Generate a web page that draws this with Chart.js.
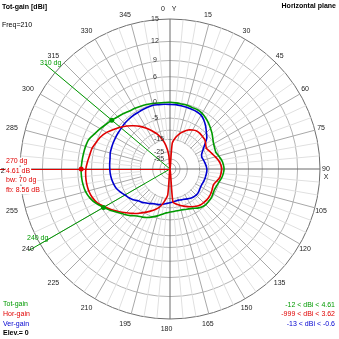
<!DOCTYPE html>
<html>
<head>
<meta charset="utf-8">
<script src="https://cdn.jsdelivr.net/npm/chart.js@4.4.1/dist/chart.umd.min.js"></script>
<style>
  html, body { margin: 0; padding: 0; background: #fff; }
  canvas { display: block; }
</style>
</head>
<body>
<canvas id="chart" width="339" height="339"></canvas>
<script>
// azimuth in degrees, 0 = Y axis at the top, clockwise
const angles = [0,5,10,15,20,25,30,35,40,45,50,55,60,65,70,75,80,85,90,95,100,105,110,115,
  120,125,130,135,140,145,150,155,160,165,170,175,180,185,190,195,200,205,210,215,220,225,230,235,
  240,245,250,255,260,265,270,275,280,285,290,295,300,305,310,315,320,325,330,335,340,345,350,355];

// gains in dBi
const totGain = [0.0,-0.1,-0.2,-0.2,-0.4,-0.4,-0.7,-1.3,-2.0,-2.8,-3.6,-4.5,-5.2,-5.6,-5.8,-5.2,-4.5,-4.1,
  -3.9,-4.1,-4.5,-5.1,-5.5,-5.7,-5.5,-5.2,-5.2,-5.2,-5.5,-6.2,-7.1,-7.7,-8.1,-8.4,-8.4,-8.3,
  -8.1,-7.7,-6.9,-5.9,-5.0,-4.1,-3.4,-2.8,-1.7,-0.7,0.3,1.5,2.6,3.7,4.5,5.0,5.2,5.3,
  5.3,5.2,5.1,5.0,4.8,4.1,3.5,2.9,2.4,1.9,1.5,1.1,0.9,0.7,0.5,0.3,0.1,0.0];
const horGain = [-999,-17.5,-13.6,-11.2,-9.5,-8.1,-7.3,-6.7,-6.7,-6.9,-7.1,-7.9,-8.6,-8.1,-7.4,-6.5,-5.6,-5.0,
  -4.7,-4.9,-5.2,-6.1,-6.8,-6.6,-6.3,-6.1,-6.1,-6.3,-6.5,-7.1,-7.9,-8.8,-9.7,-10.7,-11.7,-13.0,
  -999,-17.5,-13.0,-9.9,-8.1,-6.7,-5.3,-3.9,-2.6,-1.4,-0.1,1.2,2.3,3.4,4.0,4.3,4.4,4.4,
  4.3,4.0,3.7,3.5,3.0,2.5,1.7,0.6,-0.5,-1.7,-3.1,-4.6,-6.5,-8.6,-10.9,-14.2,-18.9,-28.9];
const verGain = [-0.6,-0.6,-0.7,-0.8,-0.9,-1.0,-1.3,-2.2,-3.4,-4.8,-6.1,-8.4,-10.4,-12.0,-12.5,-12.1,-11.7,-11.3,
  -11.0,-11.0,-11.2,-11.3,-11.5,-11.7,-11.7,-11.4,-11.0,-10.9,-11.2,-11.6,-12.2,-12.8,-13.1,-13.5,-13.3,-13.0,
  -12.6,-12.2,-11.7,-11.0,-10.6,-10.3,-9.5,-8.8,-7.9,-7.3,-6.1,-5.3,-4.6,-3.7,-2.9,-2.5,-2.2,-2.0,
  -1.9,-1.8,-1.7,-1.4,-1.3,-1.2,-1.1,-1.0,-0.9,-0.7,-0.6,-0.5,-0.5,-0.4,-0.3,-0.2,-0.4,-0.5];

// rings of the dB grid and the ones that carry a label
const ringDb = [15, 12, 9, 6, 3, 0, -5, -10, -15, -25, -35, -45];
const ringLabels = ['15', '12', '9', '6', '', '0', '-5', '', '-15', '-25', '-35', ''];
const angleLabels = [15,30,45,60,75,105,120,135,150,165,180,195,210,225,240,255,270,285,300,315,330,345];
const spokeStartDb = -15;  // radial spokes only start from this ring

const beamDir = 270, beamLeft = 240, beamRight = 310;
const seriesNames = ['Tot-gain', 'Hor-gain', 'Ver-gain'];
const rangeTexts = ['-12 < dBi < 4.61', '-999 < dBi < 3.62', '-13 < dBi < -0.6'];
const infoTexts = ['270 dg', '4.61 dB', 'bw: 70 dg', 'fb: 8.56 dB'];
const colors = ['#009a00', '#e00000', '#0000d0'];

// log-like radial scale: outer ring = 15 dB
const K = 0.054;
function dbToR(db) { return Math.exp(-K * (15 - db)); }

const FONT = '"Liberation Sans", Arial, sans-serif';
const RING = '#b4b4b4', AXIS = '#6a6a6a';

const polarDecor = {
  id: 'polarDecor',
  beforeDatasetsDraw(chart) {
    const s = chart.scales.r;
    const ctx = chart.ctx;
    const cx = s.xCenter, cy = s.yCenter;
    ctx.save();
    ctx.lineWidth = 1;

    // keep the middle clear of spokes: blank it and put back the inner rings and axes
    const inner = s.getDistanceFromCenterForValue(dbToR(spokeStartDb));
    ctx.fillStyle = '#fff';
    ctx.beginPath();
    ctx.arc(cx, cy, inner - 0.6, 0, Math.PI * 2);
    ctx.fill();
    ctx.strokeStyle = RING;
    ringDb.filter(d => d < spokeStartDb).forEach(d => {
      ctx.beginPath();
      ctx.arc(cx, cy, s.getDistanceFromCenterForValue(dbToR(d)), 0, Math.PI * 2);
      ctx.stroke();
    });
    ctx.strokeStyle = AXIS;
    [0, 90, 180, 270].forEach(a => {
      const p = s.getPointPosition(angles.indexOf(a), inner);
      ctx.beginPath();
      ctx.moveTo(cx, cy);
      ctx.lineTo(p.x, p.y);
      ctx.stroke();
    });

    // green -3 dB direction lines
    ctx.strokeStyle = colors[0];
    [beamLeft, beamRight].forEach(a => {
      const p = s.getPointPosition(angles.indexOf(a), s.drawingArea + 13);
      ctx.beginPath();
      ctx.moveTo(cx, cy);
      ctx.lineTo(p.x, p.y);
      ctx.stroke();
    });
    // red main direction line
    ctx.strokeStyle = colors[1];
    const p = s.getPointPosition(angles.indexOf(beamDir), s.drawingArea + 30);
    ctx.beginPath();
    ctx.moveTo(cx, cy + 0.5);
    ctx.lineTo(p.x, p.y + 0.5);
    ctx.stroke();
    ctx.restore();
  },
  afterDraw(chart) {
    const s = chart.scales.r;
    const ctx = chart.ctx;
    ctx.save();
    ctx.textBaseline = 'middle';

    // ring labels along the upper Y axis
    ctx.font = '7px ' + FONT;
    ctx.fillStyle = '#333';
    ctx.textAlign = 'center';
    ringDb.forEach((d, i) => {
      if (!ringLabels[i]) return;
      const y = s.yCenter - s.getDistanceFromCenterForValue(dbToR(d));
      const x = d <= -15 ? s.xCenter - 11 : s.xCenter - 15;
      ctx.fillText(ringLabels[i], x, y);
    });

    // azimuth labels
    ctx.fillStyle = '#222';
    angleLabels.forEach(a => {
      const p = s.getPointPosition(angles.indexOf(a), s.drawingArea + 10);
      const y = a === beamDir ? 171 : p.y + 0.5;
      ctx.fillText(String(a), p.x - 3.5, y);
    });
    ctx.fillText('0', 163, 9);
    ctx.fillText('Y', 174, 9);
    ctx.fillText('90', 326, 169);
    ctx.fillText('X', 326, 177);

    // markers on the total gain curve
    const dot = (a, color) => {
      const i = angles.indexOf(a);
      const p = s.getPointPosition(i, s.getDistanceFromCenterForValue(dbToR(totGain[i])));
      ctx.fillStyle = color;
      ctx.beginPath();
      ctx.arc(p.x, p.y, 2.5, 0, Math.PI * 2);
      ctx.fill();
    };
    dot(beamDir, colors[1]);
    dot(beamLeft, colors[0]);
    dot(beamRight, colors[0]);

    // green beam labels
    ctx.textAlign = 'left';
    ctx.fillStyle = colors[0];
    ctx.fillText(beamRight + ' dg', 40, 63);
    ctx.fillText(beamLeft + ' dg', 27, 238);

    // red info block with white background
    infoTexts.forEach((t, i) => {
      const y = 161.5 + i * 9.5;
      const w = ctx.measureText(t).width;
      ctx.fillStyle = '#fff';
      ctx.fillRect(5.5, y - 4, w + 1.5, 8);
      ctx.fillStyle = colors[1];
      ctx.fillText(t, 6, y);
    });

    // titles
    ctx.fillStyle = '#000';
    ctx.font = 'bold 7px ' + FONT;
    ctx.fillText('Tot-gain [dBi]', 2, 7);
    ctx.textAlign = 'right';
    ctx.fillText('Horizontal plane', 336, 6);
    ctx.font = '7px ' + FONT;
    ctx.textAlign = 'left';
    ctx.fillText('Freq=210', 2, 25);

    // legend texts
    seriesNames.forEach((n, i) => {
      ctx.fillStyle = colors[i];
      ctx.textAlign = 'left';
      ctx.fillText(n, 3, 304 + i * 10);
      ctx.textAlign = 'right';
      ctx.fillText(rangeTexts[i], 335, 305 + i * 9.5);
    });
    ctx.textAlign = 'left';
    ctx.fillStyle = '#000';
    ctx.font = 'bold 7px ' + FONT;
    ctx.fillText('Elev.= 0', 3, 333);
    ctx.restore();
  }
};

const ctx = document.getElementById('chart').getContext('2d');
const chart = new Chart(ctx, {
  type: 'radar',
  data: {
    labels: angles,
    datasets: [
      { label: seriesNames[0], data: totGain.map(dbToR), borderColor: colors[0] },
      { label: seriesNames[1], data: horGain.map(dbToR), borderColor: colors[1] },
      { label: seriesNames[2], data: verGain.map(dbToR), borderColor: colors[2] }
    ]
  },
  options: {
    responsive: false,
    animation: false,
    devicePixelRatio: 1,
    layout: { padding: { left: 20, right: 19, top: 19, bottom: 20 } },
    plugins: { legend: { display: false }, tooltip: { enabled: false } },
    elements: {
      point: { radius: 0, hoverRadius: 0 },
      line: { borderWidth: 1.6, tension: 0.25, fill: false }
    },
    scales: {
      r: {
        min: 0,
        max: 1,
        startAngle: 0,
        afterBuildTicks: scale => {
          scale.ticks = [{ value: 0 }].concat(ringDb.slice().reverse().map(d => ({ value: dbToR(d) })));
        },
        ticks: { display: false },
        grid: {
          circular: true,
          color: c => c.index === ringDb.length ? '#6e6e6e' : RING,
          lineWidth: 1
        },
        angleLines: {
          color: c => c.index % 18 === 0 ? AXIS : (c.index % 3 === 0 ? '#a8a8a8' : '#e0e0e0'),
          lineWidth: 1
        },
        pointLabels: { display: false }
      }
    }
  },
  plugins: [polarDecor]
});
</script>
</body>
</html>
